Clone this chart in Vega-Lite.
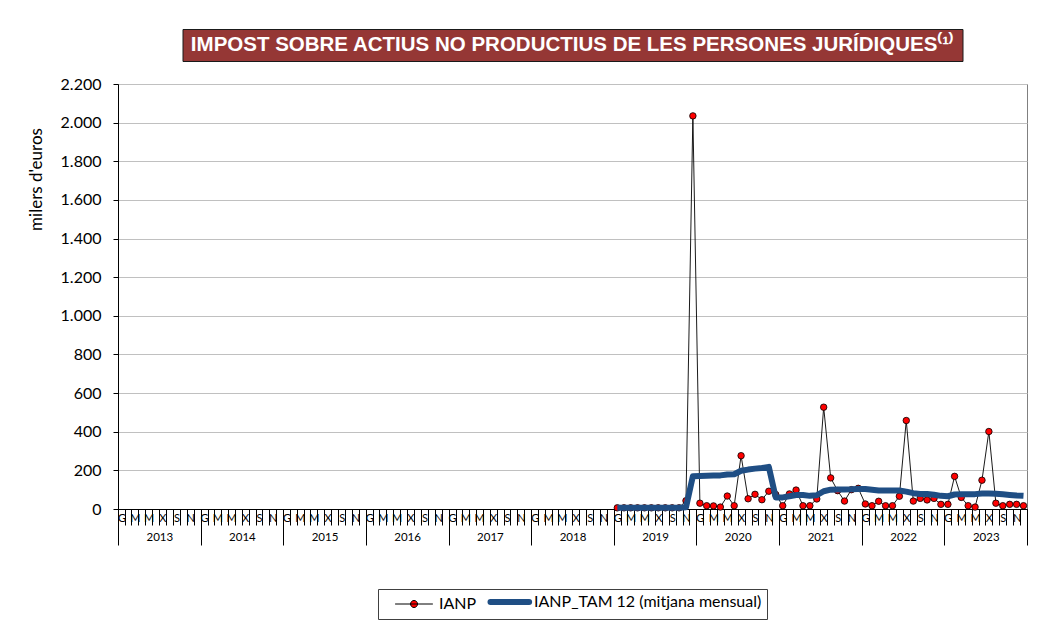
{
  "$schema": "https://vega.github.io/schema/vega-lite/v6.json",
  "padding": {"left": 26, "top": 28, "right": 5, "bottom": 5},
  "background": "white",
  "bounds": "flush",
  "center": true,
  "spacing": 23,
  "config": {"font": "Lato", "view": {"stroke": null}},
  "vconcat": [
    {
      "width": 780,
      "height": 32,
      "view": {"fill": "#953735", "stroke": "#1a1a1a", "strokeWidth": 1},
      "data": {"values": [{"titol": "IMPOST SOBRE ACTIUS NO PRODUCTIUS  DE LES PERSONES JURÍDIQUES⁽¹⁾"}]},
      "mark": {"type": "text", "font": "Liberation Sans", "fontWeight": "bold", "fontSize": 20.5, "color": "white", "baseline": "middle", "align": "center"},
      "encoding": {"text": {"field": "titol"}}
    },
    {
      "width": 909,
      "height": 425,
      "view": {"stroke": "#808080"},
      "resolve": {"axis": {"x": "independent"}},
      "data": {"values": [
        {"mes": "2019-01", "ianp": 6, "tam": 6},
        {"mes": "2019-02", "ianp": 6, "tam": 6},
        {"mes": "2019-03", "ianp": 6, "tam": 6},
        {"mes": "2019-04", "ianp": 6, "tam": 6},
        {"mes": "2019-05", "ianp": 6, "tam": 6},
        {"mes": "2019-06", "ianp": 6, "tam": 6},
        {"mes": "2019-07", "ianp": 6, "tam": 6},
        {"mes": "2019-08", "ianp": 6, "tam": 6},
        {"mes": "2019-09", "ianp": 6, "tam": 6},
        {"mes": "2019-10", "ianp": 6, "tam": 6},
        {"mes": "2019-11", "ianp": 43, "tam": 9},
        {"mes": "2019-12", "ianp": 2035, "tam": 170},
        {"mes": "2020-01", "ianp": 30, "tam": 171},
        {"mes": "2020-02", "ianp": 17, "tam": 172},
        {"mes": "2020-03", "ianp": 16, "tam": 173},
        {"mes": "2020-04", "ianp": 10, "tam": 174},
        {"mes": "2020-05", "ianp": 67, "tam": 179},
        {"mes": "2020-06", "ianp": 17, "tam": 180},
        {"mes": "2020-07", "ianp": 276, "tam": 198},
        {"mes": "2020-08", "ianp": 53, "tam": 204},
        {"mes": "2020-09", "ianp": 76, "tam": 209},
        {"mes": "2020-10", "ianp": 48, "tam": 212},
        {"mes": "2020-11", "ianp": 92, "tam": 218},
        {"mes": "2020-12", "ianp": 75, "tam": 60},
        {"mes": "2021-01", "ianp": 17, "tam": 60},
        {"mes": "2021-02", "ianp": 78, "tam": 66},
        {"mes": "2021-03", "ianp": 98, "tam": 72},
        {"mes": "2021-04", "ianp": 17, "tam": 72},
        {"mes": "2021-05", "ianp": 17, "tam": 68},
        {"mes": "2021-06", "ianp": 52, "tam": 71},
        {"mes": "2021-07", "ianp": 527, "tam": 92},
        {"mes": "2021-08", "ianp": 161, "tam": 100},
        {"mes": "2021-09", "ianp": 95, "tam": 101},
        {"mes": "2021-10", "ianp": 41, "tam": 101},
        {"mes": "2021-11", "ianp": 100, "tam": 102},
        {"mes": "2021-12", "ianp": 107, "tam": 104},
        {"mes": "2022-01", "ianp": 26, "tam": 104},
        {"mes": "2022-02", "ianp": 17, "tam": 100},
        {"mes": "2022-03", "ianp": 40, "tam": 96},
        {"mes": "2022-04", "ianp": 17, "tam": 96},
        {"mes": "2022-05", "ianp": 17, "tam": 96},
        {"mes": "2022-06", "ianp": 66, "tam": 96},
        {"mes": "2022-07", "ianp": 458, "tam": 90},
        {"mes": "2022-08", "ianp": 41, "tam": 82},
        {"mes": "2022-09", "ianp": 55, "tam": 78},
        {"mes": "2022-10", "ianp": 47, "tam": 78},
        {"mes": "2022-11", "ianp": 55, "tam": 74},
        {"mes": "2022-12", "ianp": 24, "tam": 68},
        {"mes": "2023-01", "ianp": 24, "tam": 66},
        {"mes": "2023-02", "ianp": 169, "tam": 75},
        {"mes": "2023-03", "ianp": 60, "tam": 77},
        {"mes": "2023-04", "ianp": 17, "tam": 77},
        {"mes": "2023-05", "ianp": 10, "tam": 77},
        {"mes": "2023-06", "ianp": 149, "tam": 80},
        {"mes": "2023-07", "ianp": 401, "tam": 80},
        {"mes": "2023-08", "ianp": 30, "tam": 79},
        {"mes": "2023-09", "ianp": 17, "tam": 76},
        {"mes": "2023-10", "ianp": 24, "tam": 73},
        {"mes": "2023-11", "ianp": 24, "tam": 70},
        {"mes": "2023-12", "ianp": 17, "tam": 68}
      ]},
      "encoding": {
        "y": {
          "field": "ianp",
          "type": "quantitative",
          "scale": {"domain": [0, 2200], "nice": false},
          "axis": {
            "title": "milers d'euros",
            "values": [0, 200, 400, 600, 800, 1000, 1200, 1400, 1600, 1800, 2000, 2200],
            "labelExpr": "replace(format(datum.value, ','), ',', '.')",
            "labelFontSize": 16,
            "labelColor": "#000",
            "labelPadding": 12,
            "tickSize": 5,
            "tickColor": "#000",
            "domainColor": "#000",
            "gridColor": "#c0c0c0",
            "gridWidth": 1.2,
            "titleFontSize": 17,
            "titleFontWeight": "normal",
            "titleColor": "#000",
            "titleX": -73,
            "titleY": 95,
            "titleAngle": -90,
            "titleAlign": "center",
            "titleBaseline": "bottom"
          }
        }
      },
      "layer": [
        {
          "mark": {"type": "line", "strokeWidth": 0.9},
          "encoding": {
            "x": {
              "field": "mes",
              "timeUnit": "utcyearmonth",
              "type": "temporal",
              "bandPosition": 0.5,
              "scale": {
                "nice": false,
                "domain": [
                  {"year": 2013, "month": 1, "date": 1, "utc": true},
                  {"year": 2024, "month": 1, "date": 1, "utc": true}
                ]
              },
              "axis": {
                "orient": "bottom",
                "title": null,
                "grid": false,
                "tickCount": {"interval": "month", "step": 1},
                "labelExpr": "utcyear(datum.value) > 2023 || utcmonth(datum.value) % 2 == 1 ? '' : substring('GFMAMJXASOND', utcmonth(datum.value), utcmonth(datum.value) + 1)",
                "labelOffset": 3.44,
                "labelOverlap": false,
                "labelFlush": false,
                "labelPadding": -13,
                "labelFontSize": 11,
                "labelBaseline": "top",
                "labelColor": "#000",
                "tickSize": 16,
                "tickColor": "#000",
                "domainColor": "#000"
              }
            },
            "color": {
              "datum": "IANP",
              "type": "nominal",
              "scale": {"domain": ["IANP", "IANP_TAM 12 (mitjana mensual)"], "range": ["#000000", "#1f4e84"]},
              "legend": {
                "title": null,
                "orient": "none",
                "legendX": 260,
                "legendY": 560,
                "direction": "horizontal",
                "strokeColor": "#404040",
                "padding": 5,
                "labelFontSize": 16,
                "labelColor": "#000",
                "labelOffset": 40,
                "labelLimit": 400,
                "columnPadding": 1,
                "symbolSize": 225,
                "symbolType": "stroke",
                "encode": {
                  "symbols": {
                    "update": {
                      "shape": {"signal": "datum.value === 'IANP' ? 'M0.6,0H5.53M2.6,0A0.47,0.47,0,1,0,3.54,0A0.47,0.47,0,1,0,2.6,0Z' : 'M0.6,0H5.75'"},
                      "fill": {"signal": "datum.value === 'IANP' ? '#ff0000' : 'transparent'"},
                      "stroke": {"signal": "datum.value === 'IANP' ? '#000000' : '#1f4e84'"},
                      "strokeWidth": {"signal": "datum.value === 'IANP' ? 1 : 6"},
                      "strokeCap": {"value": "round"},
                      "opacity": {"value": 1}
                    }
                  }
                }
              }
            }
          }
        },
        {
          "mark": {"type": "point", "filled": true, "fill": "#ff0000", "stroke": "#000000", "strokeWidth": 0.8, "size": 42, "opacity": 1},
          "encoding": {
            "x": {"field": "mes", "timeUnit": "utcyearmonth", "type": "temporal", "bandPosition": 0.5, "axis": null}
          }
        },
        {
          "mark": {"type": "line", "strokeWidth": 6, "strokeJoin": "round"},
          "encoding": {
            "x": {
              "field": "mes",
              "timeUnit": "utcyearmonth",
              "type": "temporal",
              "bandPosition": 0.5,
              "axis": {
                "orient": "bottom",
                "title": null,
                "grid": false,
                "domain": false,
                "tickCount": {"interval": "year", "step": 1},
                "labelExpr": "utcyear(datum.value) > 2023 ? '' : toString(utcyear(datum.value))",
                "labelOffset": 41.32,
                "labelOverlap": false,
                "labelFlush": false,
                "labelPadding": -14,
                "labelFontSize": 11.5,
                "labelBaseline": "top",
                "labelColor": "#000",
                "tickSize": 36,
                "tickColor": "#000"
              }
            },
            "y": {"field": "tam", "type": "quantitative"},
            "color": {"datum": "IANP_TAM 12 (mitjana mensual)", "type": "nominal"}
          }
        }
      ]
    }
  ]
}
